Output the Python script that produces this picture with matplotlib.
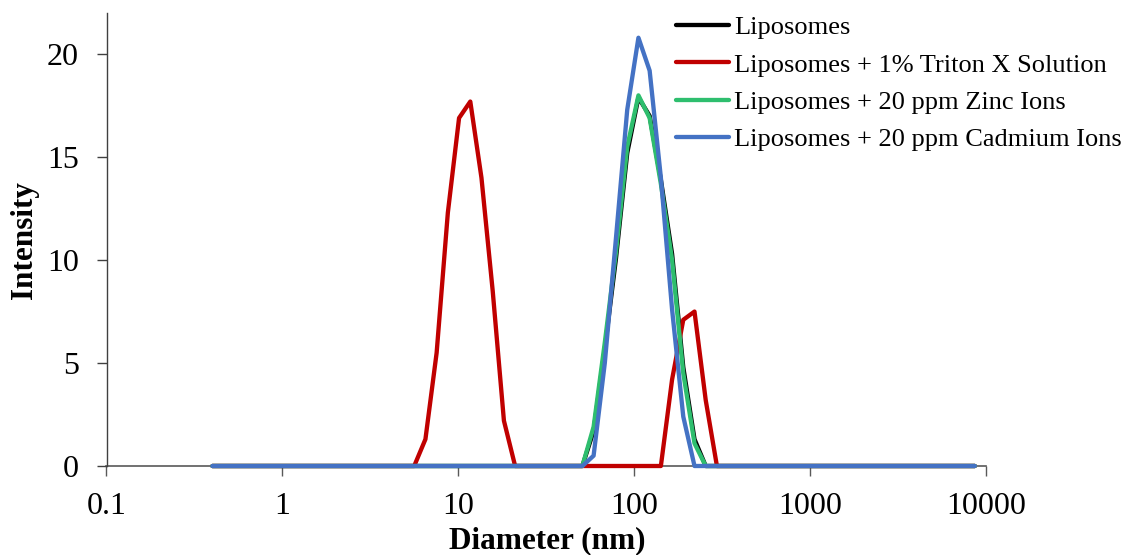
import matplotlib
matplotlib.use("Agg")
import matplotlib.pyplot as plt

plt.rcParams['font.family'] = ['Liberation Serif', 'DejaVu Serif']

# Size bins (nm)
diameter = [0.4000, 0.4632, 0.5365, 0.6213, 0.7195, 0.8332, 0.9649, 1.117, 1.294, 1.499,
            1.736, 2.010, 2.328, 2.696, 3.122, 3.615, 4.187, 4.849, 5.615, 6.503,
            7.531, 8.721, 10.10, 11.70, 13.54, 15.69, 18.17, 21.04, 24.36, 28.21,
            32.67, 37.84, 43.82, 50.75, 58.77, 68.06, 78.82, 91.28, 105.7, 122.4,
            141.8, 164.2, 190.1, 220.2, 255.0, 295.3, 342.0, 396.1, 458.7, 531.2,
            615.1, 712.4, 825.0, 955.4, 1106, 1281, 1484, 1718, 1990, 2305,
            2669, 3091, 3580, 4145, 4801, 5560, 6439, 7456, 8635]

liposomes = [0, 0, 0, 0, 0, 0, 0, 0, 0, 0,
             0, 0, 0, 0, 0, 0, 0, 0, 0, 0,
             0, 0, 0, 0, 0, 0, 0, 0, 0, 0,
             0, 0, 0, 0, 1.7, 5.7, 10.1, 15.2, 17.9, 17.0,
             13.9, 10.3, 4.8, 1.3, 0, 0, 0, 0, 0, 0,
             0, 0, 0, 0, 0, 0, 0, 0, 0, 0,
             0, 0, 0, 0, 0, 0, 0, 0, 0]

triton = [0, 0, 0, 0, 0, 0, 0, 0, 0, 0,
          0, 0, 0, 0, 0, 0, 0, 0, 0, 1.3,
          5.5, 12.3, 16.9, 17.7, 14.0, 8.5, 2.2, 0, 0, 0,
          0, 0, 0, 0, 0, 0, 0, 0, 0, 0,
          0, 4.2, 7.1, 7.5, 3.2, 0, 0, 0, 0, 0,
          0, 0, 0, 0, 0, 0, 0, 0, 0, 0,
          0, 0, 0, 0, 0, 0, 0, 0, 0]

zinc = [0, 0, 0, 0, 0, 0, 0, 0, 0, 0,
        0, 0, 0, 0, 0, 0, 0, 0, 0, 0,
        0, 0, 0, 0, 0, 0, 0, 0, 0, 0,
        0, 0, 0, 0, 1.9, 6.0, 10.4, 15.5, 18.0, 16.9,
        13.7, 10.0, 4.5, 1.1, 0, 0, 0, 0, 0, 0,
        0, 0, 0, 0, 0, 0, 0, 0, 0, 0,
        0, 0, 0, 0, 0, 0, 0, 0, 0]

cadmium = [0, 0, 0, 0, 0, 0, 0, 0, 0, 0,
           0, 0, 0, 0, 0, 0, 0, 0, 0, 0,
           0, 0, 0, 0, 0, 0, 0, 0, 0, 0,
           0, 0, 0, 0, 0.5, 5.0, 11.1, 17.3, 20.8, 19.2,
           14.0, 7.6, 2.4, 0, 0, 0, 0, 0, 0, 0,
           0, 0, 0, 0, 0, 0, 0, 0, 0, 0,
           0, 0, 0, 0, 0, 0, 0, 0, 0]

series_labels = ["Liposomes",
                 "Liposomes + 1% Triton X Solution",
                 "Liposomes + 20 ppm Zinc Ions",
                 "Liposomes + 20 ppm Cadmium Ions"]
series_colors = ["#000000", "#C00000", "#2EBE6E", "#4472C4"]

x_ticks = [0.1, 1, 10, 100, 1000, 10000]
x_ticklabels = ["0.1", "1", "10", "100", "1000", "10000"]
y_ticks = [0, 5, 10, 15, 20]

W, H = 1125, 555
fig = plt.figure(figsize=(W / 100, H / 100), dpi=100)
ax = fig.add_axes([106.5 / W, 1 - 466 / H, (986 - 106.5) / W, (466 - 13) / H])

for ys, lab, col in zip([liposomes, triton, zinc, cadmium], series_labels, series_colors):
    ax.plot(diameter, ys, color=col, lw=3.1, label=lab,
            solid_joinstyle='round', solid_capstyle='round', clip_on=False)

ax.set_xscale('log')
ax.set_xlim(0.1, 10000)
ax.set_ylim(0, 22)
ax.set_xticks(x_ticks)
ax.set_xticklabels(x_ticklabels)
ax.minorticks_off()
ax.set_yticks(y_ticks)

for s in ['top', 'right']:
    ax.spines[s].set_visible(False)
ax.spines['left'].set_color('#404040')
ax.spines['bottom'].set_color('#595959')
ax.spines['left'].set_linewidth(1.0)
ax.spines['bottom'].set_linewidth(1.2)
ax.spines['bottom'].set_zorder(0)

ax.tick_params(axis='x', direction='out', length=7, width=1, color='#595959',
               labelsize=23, pad=12)
ax.tick_params(axis='y', direction='out', length=7, width=1, color='#404040',
               labelsize=23, pad=13)

fig.text(547 / W, 1 - 541 / H, "Diameter (nm)", fontsize=22.5, fontweight='bold',
         ha='center', va='center')
fig.text(25 / W, 1 - 240 / H, "Intensity", fontsize=22.5, fontweight='bold',
         rotation=90, ha='center', va='center')

leg = ax.legend(loc='upper left', bbox_to_anchor=(676 / W, 1 - 16 / H),
                bbox_transform=fig.transFigure, frameon=False, fontsize=19,
                handlelength=2.0, handletextpad=0.2, labelspacing=0.52,
                borderpad=0, borderaxespad=0)

fig.savefig("out.png", dpi=100)
